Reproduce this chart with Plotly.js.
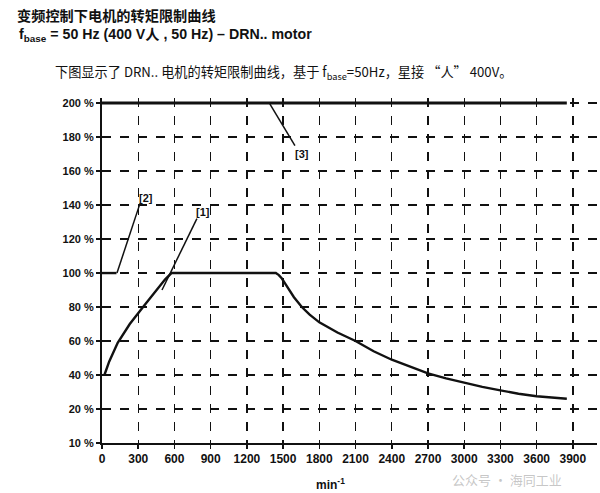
<!DOCTYPE html>
<html>
<head>
<meta charset="utf-8">
<script src="https://cdn.plot.ly/plotly-3.0.1.min.js"></script>
<style>html,body{margin:0;padding:0;background:#fff;}#chart{width:600px;height:493px;}</style>
</head>
<body>
<div id="chart"></div>
<script>
// ---- data (speed in min^-1, torque in %) ----
const curve1Speed  = [20, 60, 130, 230, 340, 450, 520, 575, 1440, 1465, 1490, 1520, 1550, 1590, 1655, 1720, 1800, 1950, 2100, 2250, 2400, 2550, 2700, 2850, 3000, 3150, 3300, 3450, 3600, 3850];
const curve1Torque = [40, 48, 59, 70, 80, 90, 96, 100, 100, 98.8, 96.8, 93.5, 90, 85.8, 80, 75.5, 71, 65, 60, 54, 49, 45, 41, 38, 35.5, 33, 31, 29, 27.5, 26];
const curve2Speed  = [0, 120];
const curve2Torque = [100, 100];
const curve3Speed  = [0, 3850];
const curve3Torque = [200, 200];

const leaderLabels = ["[1]", "[2]", "[3]"];
const leaderFromX  = [497, 124, 1390];
const leaderFromY  = [90, 100, 199.5];
const leaderToX    = [786, 315, 1598];
const leaderToY    = [132, 141, 175];
const labelX       = [840, 362, 1660];
const labelY       = [136, 144, 170];

const xTicks = [0, 300, 600, 900, 1200, 1500, 1800, 2100, 2400, 2700, 3000, 3300, 3600, 3900];
const yTicks = [0, 20, 40, 60, 80, 100, 120, 140, 160, 180, 200];
const yTickText = ["10 %", "20 %", "40 %", "60 %", "80 %", "100 %", "120 %", "140 %", "160 %", "180 %", "200 %"];

const titleLine1 = "变频控制下电机的转矩限制曲线";
const titleLine2 = "f<sub>base</sub> = 50 Hz (400 V人 , 50 Hz) – DRN.. motor";
const titleLine3 = "下图显示了 DRN.. 电机的转矩限制曲线，基于 f<sub>base</sub>=50Hz，星接 “人” 400V。";
const xAxisTitle = "min<sup>-1</sup>";
const watermark = "公众号 · 海同工业";

// ---- layout geometry ----
const W = 600, H = 493;
const mL = 102, mR = 3, mT = 98, mB = 50;
const pw = W - mL - mR, ph = H - mT - mB;
const px = x => (x - mL) / pw;
const py = y => (H - mB - y) / ph;

const FONT = "Liberation Sans, Arial, Noto Sans CJK SC, sans-serif";
const CJK = "Noto Sans CJK SC, Liberation Sans, sans-serif";

const traces = [
  {x: curve1Speed, y: curve1Torque, mode: "lines", line: {color: "#111", width: 2.4}, hoverinfo: "skip"},
  {x: curve2Speed, y: curve2Torque, mode: "lines", line: {color: "#111", width: 2.4}, hoverinfo: "skip"},
  {x: curve3Speed, y: curve3Torque, mode: "lines", line: {color: "#111", width: 3}, hoverinfo: "skip"}
];
for (let i = 0; i < leaderLabels.length; i++) {
  traces.push({x: [leaderFromX[i], leaderToX[i]], y: [leaderFromY[i], leaderToY[i]], mode: "lines",
    line: {color: "#111", width: 1.5}, hoverinfo: "skip"});
}

const annotations = [];
for (let i = 0; i < leaderLabels.length; i++) {
  annotations.push({x: labelX[i], y: labelY[i], xref: "x", yref: "y", text: leaderLabels[i], showarrow: false,
    xanchor: "center", yanchor: "middle", font: {family: FONT, size: 11, color: "#111", weight: "bold"}});
}
annotations.push({x: px(15), y: py(15), xref: "paper", yref: "paper", xanchor: "left", yanchor: "middle",
  text: "<b>" + titleLine1 + "</b>", showarrow: false, font: {family: CJK, size: 14.2, color: "#111"}});
annotations.push({x: px(17), y: py(35), xref: "paper", yref: "paper", xanchor: "left", yanchor: "middle",
  text: titleLine2, showarrow: false, font: {family: FONT, size: 14.2, color: "#111", weight: "bold"}});
annotations.push({x: px(53), y: py(72), xref: "paper", yref: "paper", xanchor: "left", yanchor: "middle",
  text: titleLine3, showarrow: false, font: {family: CJK, size: 13.2, color: "#111"}});
annotations.push({x: px(330), y: py(484), xref: "paper", yref: "paper", xanchor: "center", yanchor: "middle",
  text: "<b>" + xAxisTitle + "</b>", showarrow: false, font: {family: FONT, size: 12, color: "#111"}});
annotations.push({x: px(450), y: py(480), xref: "paper", yref: "paper", xanchor: "left", yanchor: "middle",
  text: watermark, showarrow: false, font: {family: CJK, size: 13, color: "rgba(150,150,150,0.55)"}});

const layout = {
  width: W, height: H,
  margin: {l: mL, r: mR, t: mT, b: mB, pad: 0},
  paper_bgcolor: "#fff", plot_bgcolor: "#fff",
  showlegend: false,
  font: {family: FONT, color: "#111"},
  xaxis: {
    range: [0, 4100], tickvals: xTicks, ticktext: xTicks.map(String),
    showgrid: true, gridcolor: "#111", gridwidth: 1.4, griddash: "dash",
    zeroline: false, showline: true, linecolor: "#111", linewidth: 2,
    ticks: "outside", ticklen: 4, tickwidth: 1.5, tickcolor: "#111",
    tickfont: {family: FONT, size: 12, color: "#111", weight: "bold"},
    fixedrange: true
  },
  yaxis: {
    range: [0, 203], tickvals: yTicks, ticktext: yTickText,
    showgrid: true, gridcolor: "#111", gridwidth: 1.4, griddash: "dash",
    zeroline: false, showline: true, linecolor: "#111", linewidth: 2,
    ticks: "outside", ticklen: 4, tickwidth: 1.5, tickcolor: "#111",
    tickfont: {family: FONT, size: 11, color: "#111", weight: "bold"},
    fixedrange: true
  },
  annotations: annotations
};

Plotly.newPlot("chart", traces, layout, {staticPlot: true, displayModeBar: false});
</script>
</body>
</html>
